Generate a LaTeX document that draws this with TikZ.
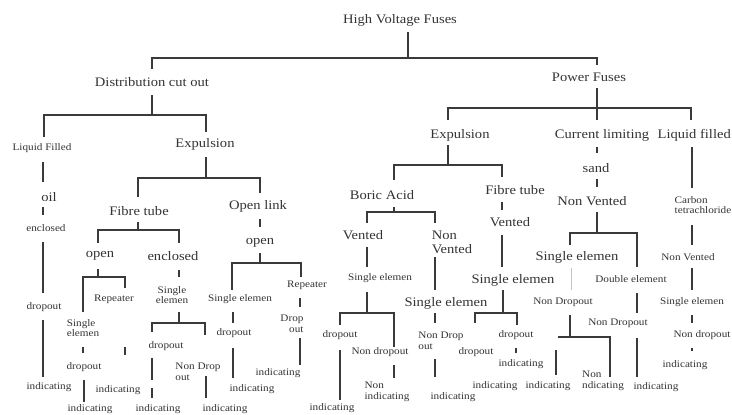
\documentclass[tikz,border=0pt]{standalone}
\usepackage{fontspec}
\setmainfont[FakeStretch=1.12]{Liberation Serif}
\definecolor{txt}{HTML}{333333}
\definecolor{lnc}{HTML}{3A3A3A}
\begin{document}
\begin{tikzpicture}[x=1pt,y=-1pt,
  big/.style={font=\fontsize{13}{14}\selectfont, inner sep=0pt, text=txt},
  sml/.style={font=\fontsize{10}{10.5}\selectfont, inner sep=0pt, text=txt},
  ln/.style={draw=lnc, line width=1.1pt},
  faint/.style={draw=lnc!30, line width=0.8pt}]
\useasboundingbox (0,0) rectangle (732,415);
% ---------- nodes ----------
\node[big] (hv) at (400,20) {High Voltage Fuses};
\node[big] (dco) at (152,82) {Distribution cut out};
\node[big] (pf) at (589,77) {Power Fuses};
% left: distribution cut out
\node[sml] (lqL) at (42,148) {Liquid Filled};
\node[big] (oil) at (49,197) {oil};
\node[sml] (encL) at (46,228) {enclosed};
\node[sml] (dropL) at (44,307) {dropout};
\node[sml] (indL) at (49,387) {indicating};
\node[big] (expL) at (205,144) {Expulsion};
\node[big] (ft) at (139,211) {Fibre tube};
\node[big] (ol) at (258,206) {Open link};
\node[big] (open1) at (100,256) {open};
\node[big] (encl1) at (173,256) {enclosed};
\node[sml] (rep1) at (114,299) {Repeater};
\node[sml,align=left] (se1) at (83,328) {Single\\elemen};
\node[sml] (drop1) at (84,367) {dropout};
\node[sml] (ind1a) at (118,390) {indicating};
\node[sml] (ind1b) at (90,409) {indicating};
\node[sml,align=center] (se2) at (172,295) {Single\\elemen};
\node[sml] (drop2) at (166,346) {dropout};
\node[sml,align=left] (nd2) at (198,372) {Non Drop\\out};
\node[sml] (ind2a) at (158,409) {indicating};
\node[sml] (ind2b) at (225,409) {indicating};
\node[big] (openOL) at (260,243) {open};
\node[sml] (se3) at (240,299) {Single elemen};
\node[sml] (rep3) at (307,285) {Repeater};
\node[sml] (drop3) at (234,333) {dropout};
\node[sml] (ind3) at (252,389) {indicating};
\node[sml,align=right] (dro3) at (292,324) {Drop\\out};
\node[sml] (ind3b) at (278,373) {indicating};
% right: power fuses
\node[big] (expR) at (460,135) {Expulsion};
\node[big] (cl) at (602,135) {Current limiting};
\node[big,anchor=east] (lf) at (731,135) {Liquid filled};
\node[big] (ba) at (382,195) {Boric Acid};
\node[big] (ft2) at (515,190) {Fibre tube};
\node[big] (ven1) at (363,235) {Vented};
\node[big,align=left] (nv1) at (452,242) {Non\\Vented};
\node[big] (ven2) at (510,222) {Vented};
\node[sml] (se4) at (380,278) {Single elemen};
\node[sml] (drop4) at (340,335) {dropout};
\node[sml] (ind4) at (332,408) {indicating};
\node[sml] (nd4) at (380,352) {Non dropout};
\node[sml,align=left] (ni4) at (387,392) {Non\\indicating};
\node[big] (se5) at (446,303) {Single elemen};
\node[sml,align=left] (nd5) at (441,341) {Non Drop\\out};
\node[sml] (ind5) at (453,397) {indicating};
\node[big] (se6) at (513,280) {Single elemen};
\node[sml] (drop6a) at (516,335) {dropout};
\node[sml] (drop6b) at (476,352) {dropout};
\node[sml] (ind6a) at (521,364) {indicating};
\node[sml] (ind6b) at (495,386) {indicating};
\node[sml] (ind6c) at (548,386) {indicating};
\node[big] (sand) at (596,168) {sand};
\node[big] (nv7) at (592,201) {Non Vented};
\node[big] (se7) at (577,257) {Single elemen};
\node[sml] (de7) at (631,279) {Double element};
\node[sml] (ndo7) at (563,302) {Non Dropout};
\node[sml] (ndo8) at (618,323) {Non Dropout};
\node[sml,align=left] (non7) at (603,381) {Non\\ndicating};
\node[sml] (ind7) at (656,387) {indicating};
\node[sml,align=left] (ct) at (703,205) {Carbon\\tetrachloride};
\node[sml] (nv9) at (688,257) {Non Vented};
\node[sml] (se9) at (692,302) {Single elemen};
\node[sml] (nd9) at (702,335) {Non dropout};
\node[sml] (ind9) at (685,365) {indicating};
% ---------- connectors ----------
% top level
\draw[ln] (408,32) -- (408,58);
\draw[ln] (152,69) -- (152,58) -- (597,58) -- (597,65);
\draw[ln] (152,95) -- (152,115);
\draw[ln] (44,137) -- (44,115) -- (206,115) -- (206,132);
\draw[ln] (597,88) -- (597,108);
\draw[ln] (448,120) -- (448,108) -- (691,108) -- (691,120);
\draw[ln] (597,108) -- (597,120);
% liquid filled (left)
\draw[ln] (43,162) -- (43,182);
\draw[ln] (43,207) -- (43,215);
\draw[ln] (43,242) -- (43,293);
\draw[ln] (43,320) -- (43,377);
% expulsion (left)
\draw[ln] (206,157) -- (206,178);
\draw[ln] (138,197) -- (138,178) -- (260,178) -- (260,193);
\draw[ln] (138,222) -- (138,230);
\draw[ln] (98,243) -- (98,230) -- (179,230) -- (179,243);
\draw[ln] (98,269) -- (98,277);
\draw[ln] (83,312) -- (83,277) -- (125,277) -- (125,288);
\draw[ln] (83,347) -- (83,353);
\draw[ln] (125,347) -- (125,355);
\draw[ln] (84,380) -- (84,402);
\draw[ln] (179,270) -- (179,277);
\draw[ln] (179,312) -- (179,323);
\draw[ln] (152,332) -- (152,323) -- (205,323) -- (205,335);
\draw[ln] (152,358) -- (152,380);
\draw[ln] (152,388) -- (152,398);
\draw[ln] (206,376) -- (206,398);
\draw[ln] (260,219) -- (260,227);
\draw[ln] (260,253) -- (260,263);
\draw[ln] (232,290) -- (232,263) -- (301,263) -- (301,277);
\draw[ln] (300,298) -- (300,307);
\draw[ln] (300,338) -- (300,365);
\draw[ln] (233,312) -- (233,323);
\draw[ln] (233,348) -- (233,378);
% expulsion (right)
\draw[ln] (448,145) -- (448,165);
\draw[ln] (394,180) -- (394,165) -- (502,165) -- (502,177);
\draw[ln] (394,207) -- (394,212);
\draw[ln] (367,223) -- (367,212) -- (435,212) -- (435,223);
\draw[ln] (367,247) -- (367,267);
\draw[ln] (435,257) -- (435,290);
\draw[ln] (502,202) -- (502,210);
\draw[ln] (502,235) -- (502,267);
\draw[ln] (367,292) -- (367,313);
\draw[ln] (340,325) -- (340,313) -- (394,313) -- (394,347);
\draw[ln] (340,350) -- (340,400);
\draw[ln] (394,365) -- (394,378);
\draw[ln] (435,313) -- (435,323);
\draw[ln] (435,359) -- (435,377);
\draw[ln] (503,290) -- (503,313);
\draw[ln] (475,323) -- (475,313) -- (517,313) -- (517,325);
\draw[ln] (516,348) -- (516,353);
\draw[ln] (556,350) -- (556,375);
% current limiting
\draw[ln] (597,147) -- (597,153);
\draw[ln] (597,179) -- (597,187);
\draw[ln] (597,212) -- (597,233);
\draw[ln] (570,245) -- (570,233) -- (637,233) -- (637,267);
\draw[faint] (571,268) -- (571,290);
\draw[ln] (570,315) -- (570,337);
\draw[ln] (558,337) -- (610,337) -- (610,377);
\draw[ln] (637,293) -- (637,313);
\draw[ln] (637,338) -- (637,377);
% liquid filled (right)
\draw[ln] (692,147) -- (692,188);
\draw[ln] (692,225) -- (692,245);
\draw[ln] (692,268) -- (692,290);
\draw[ln] (692,315) -- (692,323);
\draw[ln] (692,348) -- (692,351);
\end{tikzpicture}
\end{document}
